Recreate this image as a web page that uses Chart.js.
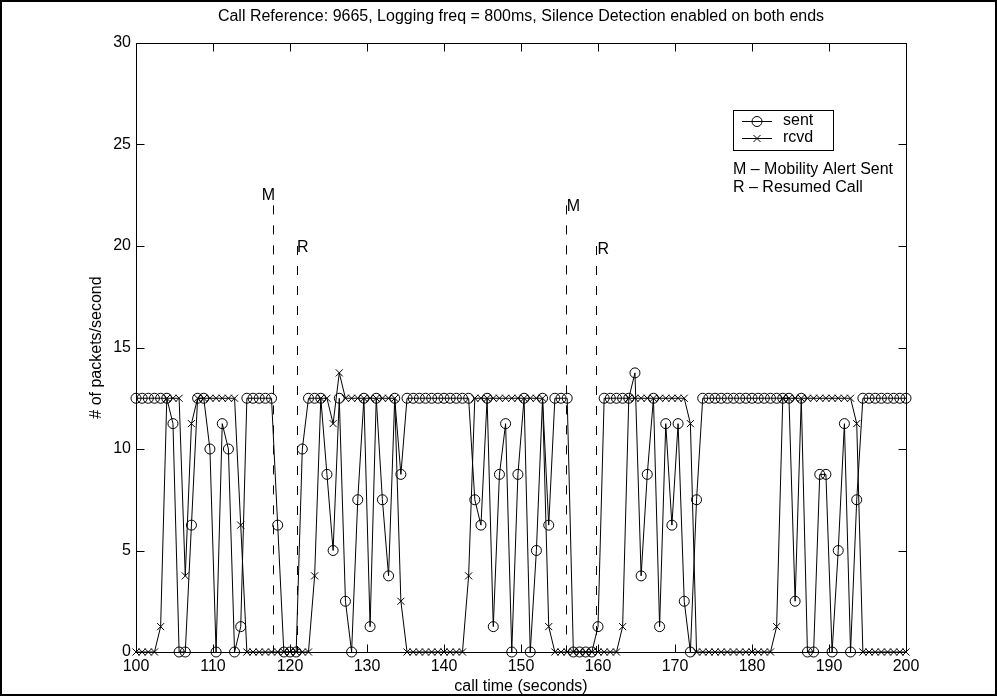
<!DOCTYPE html>
<html>
<head>
<meta charset="utf-8">
<script src="https://cdn.jsdelivr.net/npm/chart.js@4.4.0/dist/chart.umd.min.js"></script>
<style>
  html, body { margin: 0; padding: 0; background: #fff; }
  canvas { display: block; }
</style>
</head>
<body>
<canvas id="chart" width="997" height="696"></canvas>
<script>
// ── Data (packets/second, logged every 800 ms) ────────────
const callTime = [
  100, 100.8, 101.6, 102.4, 103.2,  104, 104.8, 105.6, 106.4, 107.2,
  108, 108.8, 109.6, 110.4, 111.2,  112, 112.8, 113.6, 114.4, 115.2,
  116, 116.8, 117.6, 118.4, 119.2,  120, 120.8, 121.6, 122.4, 123.2,
  124, 124.8, 125.6, 126.4, 127.2,  128, 128.8, 129.6, 130.4, 131.2,
  132, 132.8, 133.6, 134.4, 135.2,  136, 136.8, 137.6, 138.4, 139.2,
  140, 140.8, 141.6, 142.4, 143.2,  144, 144.8, 145.6, 146.4, 147.2,
  148, 148.8, 149.6, 150.4, 151.2,  152, 152.8, 153.6, 154.4, 155.2,
  156, 156.8, 157.6, 158.4, 159.2,  160, 160.8, 161.6, 162.4, 163.2,
  164, 164.8, 165.6, 166.4, 167.2,  168, 168.8, 169.6, 170.4, 171.2,
  172, 172.8, 173.6, 174.4, 175.2,  176, 176.8, 177.6, 178.4, 179.2,
  180, 180.8, 181.6, 182.4, 183.2,  184, 184.8, 185.6, 186.4, 187.2,
  188, 188.8, 189.6, 190.4, 191.2,  192, 192.8, 193.6, 194.4, 195.2,
  196, 196.8, 197.6, 198.4, 199.2,  200,
];

const sent = [
  12.5, 12.5, 12.5, 12.5, 12.5,  12.5, 11.25, 0, 0, 6.25,
  12.5, 12.5, 10, 0, 11.25,      10, 0, 1.25, 12.5, 12.5,
  12.5, 12.5, 12.5, 6.25, 0,     0, 0, 10, 12.5, 12.5,
  12.5, 8.75, 5, 12.5, 2.5,      0, 7.5, 12.5, 1.25, 12.5,
  7.5, 3.75, 12.5, 8.75, 12.5,   12.5, 12.5, 12.5, 12.5, 12.5,
  12.5, 12.5, 12.5, 12.5, 12.5,  7.5, 6.25, 12.5, 1.25, 8.75,
  11.25, 0, 8.75, 12.5, 0,       5, 12.5, 6.25, 12.5, 12.5,
  12.5, 0, 0, 0, 0,              1.25, 12.5, 12.5, 12.5, 12.5,
  12.5, 13.75, 3.75, 8.75, 12.5, 1.25, 11.25, 6.25, 11.25, 2.5,
  0, 7.5, 12.5, 12.5, 12.5,      12.5, 12.5, 12.5, 12.5, 12.5,
  12.5, 12.5, 12.5, 12.5, 12.5,  12.5, 12.5, 2.5, 12.5, 0,
  0, 8.75, 8.75, 0, 5,           11.25, 0, 7.5, 12.5, 12.5,
  12.5, 12.5, 12.5, 12.5, 12.5,  12.5,
];

const rcvd = [
  0, 0, 0, 0, 1.25,              12.5, 12.5, 12.5, 3.75, 11.25,
  12.5, 12.5, 12.5, 12.5, 12.5,  12.5, 12.5, 6.25, 0, 0,
  0, 0, 0, 0, 0,                 0, 0, 0, 0, 3.75,
  12.5, 12.5, 11.25, 13.75, 12.5, 12.5, 12.5, 12.5, 12.5, 12.5,
  12.5, 12.5, 12.5, 2.5, 0,      0, 0, 0, 0, 0,
  0, 0, 0, 0, 3.75,              12.5, 12.5, 12.5, 12.5, 12.5,
  12.5, 12.5, 12.5, 12.5, 12.5,  12.5, 12.5, 1.25, 0, 0,
  0, 0, 0, 0, 0,                 0, 0, 0, 0, 1.25,
  12.5, 12.5, 12.5, 12.5, 12.5,  12.5, 12.5, 12.5, 12.5, 12.5,
  11.25, 0, 0, 0, 0,             0, 0, 0, 0, 0,
  0, 0, 0, 0, 1.25,              12.5, 12.5, 12.5, 12.5, 12.5,
  12.5, 12.5, 12.5, 12.5, 12.5,  12.5, 12.5, 11.25, 0, 0,
  0, 0, 0, 0, 0,                 0,
];

const xTicks = [100, 110, 120, 130, 140, 150, 160, 170, 180, 190, 200];
const yTicks = [0, 5, 10, 15, 20, 25, 30];

// M = mobility alert sent, R = resumed call
const eventLabels = ["M", "R", "M", "R"];
const eventTimes = [117.8, 120.85, 155.8, 159.8];
const eventTops = [22, 20, 22, 20];
const eventLabelX = [117.2, 121.65, 156.8, 160.7];
const eventLabelY = [22.5, 19.9, 21.95, 19.8];

const notes = ["M \u2013 Mobility Alert Sent", "R \u2013 Resumed Call"];
const titleText =
  "Call Reference: 9665, Logging freq = 800ms, Silence Detection enabled on both ends";

// ── Style helpers ─────────────────────────────────────────
const FONT_FAMILY = "'Liberation Sans', Arial, Helvetica, sans-serif";
const FONT_SIZE = 16;
const INK = "#000";
const TICK_LEN = 8;

function font(size = FONT_SIZE) {
  return `${size}px ${FONT_FAMILY}`;
}

// ── Decorations drawn on the canvas (box, inward ticks, notes) ──
const figureDecor = {
  id: "figureDecor",

  beforeDraw(chart) {
    const { ctx } = chart;
    ctx.save();
    ctx.fillStyle = "#fff";
    ctx.fillRect(0, 0, chart.width, chart.height);
    ctx.restore();
  },

  beforeDatasetsDraw(chart) {
    const { ctx, scales: { x, y } } = chart;
    ctx.save();
    ctx.strokeStyle = INK;
    ctx.lineWidth = 1;
    ctx.setLineDash([9, 11]);
    eventTimes.forEach((t, i) => {
      const px = Math.round(x.getPixelForValue(t)) + 0.5;
      ctx.beginPath();
      ctx.moveTo(px, y.getPixelForValue(eventTops[i]));
      ctx.lineTo(px, y.getPixelForValue(0));
      ctx.stroke();
    });
    ctx.setLineDash([]);

    ctx.fillStyle = INK;
    ctx.font = font();
    ctx.textAlign = "center";
    ctx.textBaseline = "middle";
    eventLabels.forEach((lab, i) => {
      ctx.fillText(lab, x.getPixelForValue(eventLabelX[i]), y.getPixelForValue(eventLabelY[i]));
    });
    ctx.restore();
  },

  afterDraw(chart) {
    const { ctx, chartArea: a, scales: { x, y } } = chart;
    const L = Math.round(a.left) + 0.5;
    const R = Math.round(a.right) + 0.5;
    const T = Math.round(a.top) + 0.5;
    const B = Math.round(a.bottom) + 0.5;

    ctx.save();
    ctx.strokeStyle = INK;
    ctx.lineWidth = 1;

    // axes box
    ctx.strokeRect(L, T, R - L, B - T);

    // inward ticks on all four sides
    ctx.beginPath();
    xTicks.forEach((v) => {
      const px = Math.round(x.getPixelForValue(v)) + 0.5;
      ctx.moveTo(px, B); ctx.lineTo(px, B - TICK_LEN);
      ctx.moveTo(px, T); ctx.lineTo(px, T + TICK_LEN);
    });
    yTicks.forEach((v) => {
      const py = Math.round(y.getPixelForValue(v)) + 0.5;
      ctx.moveTo(L, py); ctx.lineTo(L + TICK_LEN, py);
      ctx.moveTo(R, py); ctx.lineTo(R - TICK_LEN, py);
    });
    ctx.stroke();

    ctx.fillStyle = INK;
    ctx.font = font();
    ctx.textBaseline = "middle";

    // title and axis titles
    const cx = (a.left + a.right) / 2;
    ctx.textAlign = "center";
    ctx.fillText(titleText, cx, 17);
    ctx.fillText("call time (seconds)", cx, 687);
    ctx.save();
    ctx.translate(97, (a.top + a.bottom) / 2);
    ctx.rotate(-Math.PI / 2);
    ctx.fillText("# of packets/second", 0, 0);
    ctx.restore();

    // legend box
    const lx = 733.5, ly = 110.5, lw = 100, lh = 40;
    ctx.strokeRect(lx, ly, lw, lh);
    const rows = [
      { label: "sent", style: "circle", yy: 121 },
      { label: "rcvd", style: "cross", yy: 138 },
    ];
    rows.forEach((r) => {
      ctx.beginPath();
      ctx.moveTo(742, r.yy + 0.5);
      ctx.lineTo(772, r.yy + 0.5);
      ctx.stroke();
      ctx.beginPath();
      if (r.style === "circle") {
        ctx.arc(757, r.yy + 0.5, 5, 0, Math.PI * 2);
      } else {
        ctx.moveTo(753.5, r.yy - 3); ctx.lineTo(760.5, r.yy + 4);
        ctx.moveTo(753.5, r.yy + 4); ctx.lineTo(760.5, r.yy - 3);
      }
      ctx.stroke();
      ctx.textAlign = "left";
      ctx.fillText(r.label, 783, r.yy);
    });

    // notes under the legend
    ctx.textAlign = "left";
    notes.forEach((n, i) => ctx.fillText(n, 733, 170 + i * 18));

    // figure frame
    ctx.lineWidth = 2;
    ctx.strokeRect(1, 1, chart.width - 2, chart.height - 2);
    ctx.restore();
  },
};

const points = (vals) => callTime.map((t, i) => ({ x: t, y: vals[i] }));

new Chart(document.getElementById("chart"), {
  type: "line",
  data: {
    datasets: [
      {
        label: "sent",
        data: points(sent),
        borderColor: INK,
        borderWidth: 1,
        pointStyle: "circle",
        pointRadius: 5,
        pointBorderWidth: 1,
        pointBorderColor: INK,
        pointBackgroundColor: "rgba(0,0,0,0)",
        tension: 0,
        clip: false,
      },
      {
        label: "rcvd",
        data: points(rcvd),
        borderColor: INK,
        borderWidth: 1,
        pointStyle: "crossRot",
        pointRadius: 5,
        pointBorderWidth: 1,
        pointBorderColor: INK,
        tension: 0,
        clip: false,
      },
    ],
  },
  options: {
    responsive: false,
    animation: false,
    devicePixelRatio: 1,
    events: [],
    layout: { padding: { left: 0, top: 43, right: 91, bottom: 0 } },
    plugins: {
      legend: { display: false },
      tooltip: { enabled: false },
      title: { display: false },
    },
    scales: {
      x: {
        type: "linear",
        min: xTicks[0],
        max: xTicks[xTicks.length - 1],
        afterFit: (s) => { s.height = 44; },
        afterBuildTicks: (s) => { s.ticks = xTicks.map((v) => ({ value: v })); },
        grid: { display: false, drawTicks: false },
        border: { display: false },
        ticks: { color: INK, font: { family: FONT_FAMILY, size: FONT_SIZE }, padding: 5, maxRotation: 0 },
      },
      y: {
        type: "linear",
        min: yTicks[0],
        max: yTicks[yTicks.length - 1],
        afterFit: (s) => { s.width = 136; },
        afterBuildTicks: (s) => { s.ticks = yTicks.map((v) => ({ value: v })); },
        grid: { display: false, drawTicks: false },
        border: { display: false },
        ticks: { color: INK, font: { family: FONT_FAMILY, size: FONT_SIZE }, padding: 5 },
      },
    },
  },
  plugins: [figureDecor],
});
</script>
</body>
</html>
